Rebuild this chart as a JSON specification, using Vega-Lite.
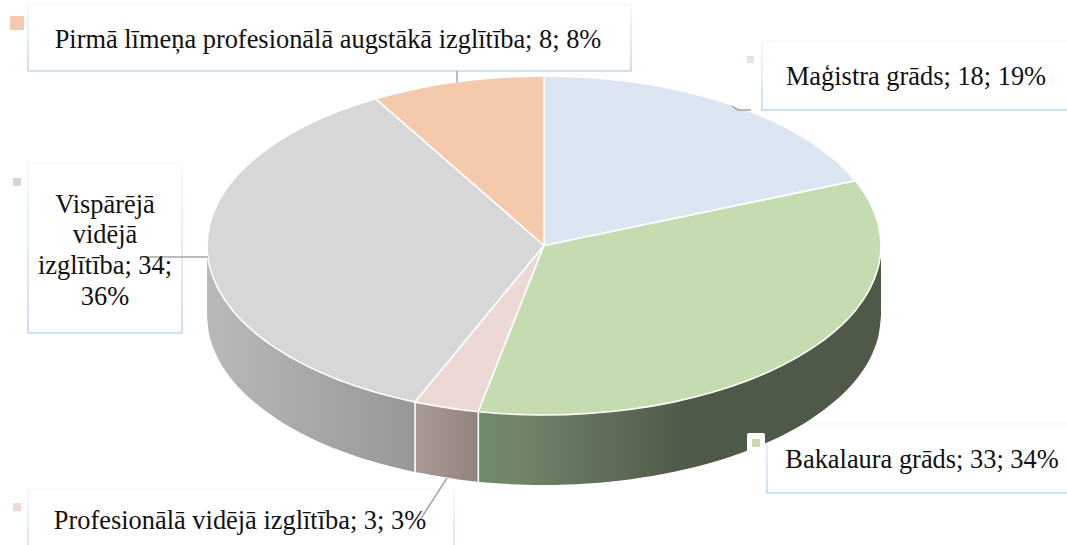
{"$schema":"https://vega.github.io/schema/vega-lite/v6.json","width":1067,"height":545,"padding":0,"autosize":"none","background":"white","config":{"view":{"stroke":null}},
"datasets":{
"top":[
{"s":"M","i":0,"x":0,"y":0},{"s":"M","i":0.5,"x":0,"y":0},{"s":"M","i":0.7,"x":0,"y":169.5},{"s":"M","i":1,"x":0,"y":169.5},{"s":"M","i":2,"x":44,"y":168},{"s":"M","i":3,"x":87.2,"y":163.7},{"s":"M","i":4,"x":129,"y":156.6},{"s":"M","i":5,"x":168.5,"y":146.8},{"s":"M","i":6,"x":205.2,"y":134.5},{"s":"M","i":7,"x":238.3,"y":119.9},{"s":"M","i":8,"x":267.4,"y":103.2},{"s":"M","i":9,"x":291.8,"y":84.8},{"s":"M","i":10,"x":311.4,"y":64.9},{"s":"M","i":10.5,"x":311.4,"y":64.9},{"s":"M","i":11,"x":0,"y":0},{"s":"M","i":11.5,"x":0,"y":0},
{"s":"B","i":0,"x":0,"y":0},{"s":"B","i":0.5,"x":0,"y":0},{"s":"B","i":0.7,"x":311.4,"y":64.9},{"s":"B","i":1,"x":311.4,"y":64.9},{"s":"B","i":2,"x":325.5,"y":43.9},{"s":"B","i":3,"x":334.1,"y":22.1},{"s":"B","i":4,"x":337,"y":0},{"s":"B","i":5,"x":334.1,"y":-22.1},{"s":"B","i":6,"x":325.5,"y":-43.9},{"s":"B","i":7,"x":311.4,"y":-64.9},{"s":"B","i":8,"x":291.8,"y":-84.8},{"s":"B","i":9,"x":267.4,"y":-103.2},{"s":"B","i":10,"x":238.3,"y":-119.9},{"s":"B","i":11,"x":205.2,"y":-134.5},{"s":"B","i":12,"x":168.5,"y":-146.8},{"s":"B","i":13,"x":129,"y":-156.6},{"s":"B","i":14,"x":87.2,"y":-163.7},{"s":"B","i":15,"x":44,"y":-168},{"s":"B","i":16,"x":0,"y":-169.5},{"s":"B","i":17,"x":-44,"y":-168},{"s":"B","i":18,"x":-65.7,"y":-166.2},{"s":"B","i":18.5,"x":-65.7,"y":-166.2},{"s":"B","i":19,"x":0,"y":0},{"s":"B","i":19.5,"x":0,"y":0},
{"s":"P","i":0,"x":0,"y":0},{"s":"P","i":0.5,"x":0,"y":0},{"s":"P","i":0.7,"x":-65.7,"y":-166.2},{"s":"P","i":1,"x":-65.7,"y":-166.2},{"s":"P","i":2,"x":-87.2,"y":-163.7},{"s":"P","i":3,"x":-129,"y":-156.6},{"s":"P","i":3.5,"x":-129,"y":-156.6},{"s":"P","i":4,"x":0,"y":0},{"s":"P","i":4.5,"x":0,"y":0},
{"s":"V","i":0,"x":0,"y":0},{"s":"V","i":0.5,"x":0,"y":0},{"s":"V","i":0.7,"x":-129,"y":-156.6},{"s":"V","i":1,"x":-129,"y":-156.6},{"s":"V","i":2,"x":-168.5,"y":-146.8},{"s":"V","i":3,"x":-205.2,"y":-134.5},{"s":"V","i":4,"x":-238.3,"y":-119.9},{"s":"V","i":5,"x":-267.4,"y":-103.2},{"s":"V","i":6,"x":-291.8,"y":-84.8},{"s":"V","i":7,"x":-311.4,"y":-64.9},{"s":"V","i":8,"x":-325.5,"y":-43.9},{"s":"V","i":9,"x":-334.1,"y":-22.1},{"s":"V","i":10,"x":-337,"y":0},{"s":"V","i":11,"x":-334.1,"y":22.1},{"s":"V","i":12,"x":-325.5,"y":43.9},{"s":"V","i":13,"x":-311.4,"y":64.9},{"s":"V","i":14,"x":-291.8,"y":84.8},{"s":"V","i":15,"x":-267.4,"y":103.2},{"s":"V","i":16,"x":-238.3,"y":119.9},{"s":"V","i":17,"x":-205.2,"y":134.5},{"s":"V","i":18,"x":-168.5,"y":146.8},{"s":"V","i":18.5,"x":-168.5,"y":146.8},{"s":"V","i":19,"x":0,"y":0},{"s":"V","i":19.5,"x":0,"y":0},
{"s":"A","i":0,"x":0,"y":0},{"s":"A","i":0.5,"x":0,"y":0},{"s":"A","i":0.7,"x":-168.5,"y":146.8},{"s":"A","i":1,"x":-168.5,"y":146.8},{"s":"A","i":2,"x":-129,"y":156.6},{"s":"A","i":3,"x":-87.2,"y":163.7},{"s":"A","i":4,"x":-44,"y":168},{"s":"A","i":5,"x":0,"y":169.5},{"s":"A","i":5.5,"x":0,"y":169.5},{"s":"A","i":6,"x":0,"y":0},{"s":"A","i":6.5,"x":0,"y":0}
],
"wall":[
{"s":"B","x":337,"y":0,"y2":-70},{"s":"B","x":334.1,"y":-22.1,"y2":-92.1},{"s":"B","x":325.5,"y":-43.9,"y2":-113.9},{"s":"B","x":311.4,"y":-64.9,"y2":-134.9},{"s":"B","x":291.8,"y":-84.8,"y2":-154.8},{"s":"B","x":267.4,"y":-103.2,"y2":-173.2},{"s":"B","x":238.3,"y":-119.9,"y2":-189.9},{"s":"B","x":205.2,"y":-134.5,"y2":-204.5},{"s":"B","x":168.5,"y":-146.8,"y2":-216.8},{"s":"B","x":129,"y":-156.6,"y2":-226.6},{"s":"B","x":87.2,"y":-163.7,"y2":-233.7},{"s":"B","x":44,"y":-168,"y2":-238},{"s":"B","x":0,"y":-169.5,"y2":-239.5},{"s":"B","x":-44,"y":-168,"y2":-238},{"s":"B","x":-65.7,"y":-166.2,"y2":-236.2},
{"s":"P","x":-65.7,"y":-166.2,"y2":-236.2},{"s":"P","x":-87.2,"y":-163.7,"y2":-233.7},{"s":"P","x":-129,"y":-156.6,"y2":-226.6},
{"s":"V","x":-129,"y":-156.6,"y2":-226.6},{"s":"V","x":-168.5,"y":-146.8,"y2":-216.8},{"s":"V","x":-205.2,"y":-134.5,"y2":-204.5},{"s":"V","x":-238.3,"y":-119.9,"y2":-189.9},{"s":"V","x":-267.4,"y":-103.2,"y2":-173.2},{"s":"V","x":-291.8,"y":-84.8,"y2":-154.8},{"s":"V","x":-311.4,"y":-64.9,"y2":-134.9},{"s":"V","x":-325.5,"y":-43.9,"y2":-113.9},{"s":"V","x":-334.1,"y":-22.1,"y2":-92.1},{"s":"V","x":-337,"y":0,"y2":-70}
],
"seams":[{"x":-65.7,"y":-166.2,"y2":-236.2},{"x":-129,"y":-156.6,"y2":-226.6}],
"boxes":[
{"name":"Pirmā līmeņa profesionālā augstākā izglītība","x":-516,"x2":87,"y":241,"y2":174.5},
{"name":"Maģistra grāds","x":218,"x2":540,"y":204.5,"y2":135.5},
{"name":"Vispārējā vidējā izglītība","x":-516,"x2":-362,"y":82.5,"y2":-87.5},
{"name":"Profesionālā vidējā izglītība","x":-516,"x2":-90,"y":-243.5,"y2":-320},
{"name":"Bakalaura grāds","x":223,"x2":540,"y":-178.5,"y2":-247.5}],
"halo":[{"name":"Bakalaura grāds","x":203,"x2":221,"y":-187.5,"y2":-206.5}],
"keys":[
{"name":"Pirmā līmeņa profesionālā augstākā izglītība","x":-534,"x2":-520,"y":229.5,"y2":215.5},
{"name":"Maģistra grāds","x":203,"x2":210,"y":189.5,"y2":182.5},
{"name":"Vispārējā vidējā izglītība","x":-531,"x2":-523,"y":67.5,"y2":59.5},
{"name":"Profesionālā vidējā izglītība","x":-531,"x2":-523,"y":-257.5,"y2":-265.5},
{"name":"Bakalaura grāds","x":208,"x2":216,"y":-193.5,"y2":-201.5}],
"leaders":[
{"s":"A","i":0,"x":-87,"y":174.5},{"s":"A","i":1,"x":-87,"y":163},
{"s":"M","i":0,"x":188,"y":139.5},{"s":"M","i":1,"x":194,"y":135.5},{"s":"M","i":2,"x":207,"y":135.5},
{"s":"V","i":0,"x":-396,"y":-11.5},{"s":"V","i":1,"x":-336,"y":-11.5},
{"s":"P","i":0,"x":-97,"y":-232.5},{"s":"P","i":1,"x":-124,"y":-274.5}],
"labels":[
{"t":"Pirmā līmeņa profesionālā augstākā izglītība; 8; 8%","x":-216,"y":197.2},
{"t":"Maģistra grāds; 18; 19%","x":372,"y":160.5},
{"t":"Vispārējā","x":-439,"y":32.8},{"t":"vidējā","x":-439,"y":2.8},{"t":"izglītība; 34;","x":-439,"y":-28.8},{"t":"36%","x":-439,"y":-59.5},
{"t":"Profesionālā vidējā izglītība; 3; 3%","x":-304,"y":-283.5},
{"t":"Bakalaura grāds; 33; 34%","x":378,"y":-222.5}]
},
"encoding":{
"x":{"field":"x","type":"quantitative","axis":null,"scale":{"domain":[-544,523],"nice":false,"zero":false}},
"y":{"field":"y","type":"quantitative","axis":null,"scale":{"domain":[-299.5,245.5],"nice":false,"zero":false}}},
"layer":[
{"data":{"name":"boxes"},"mark":{"type":"rect","clip":true,"fillOpacity":0,"fill":"white","strokeWidth":1.6,"stroke":{"gradient":"linear","x1":0,"y1":0,"x2":0,"y2":1,"stops":[{"offset":0,"color":"#f3f8fd"},{"offset":1,"color":"#bfd8f0"}]}},"encoding":{"x2":{"field":"x2"},"y2":{"field":"y2"}}},
{"data":{"name":"wall"},"transform":[{"filter":"datum.s==='V'"}],"mark":{"type":"area","orient":"vertical","interpolate":"catmull-rom","fill":{"gradient":"linear","x1":0,"y1":0,"x2":1,"y2":0,"stops":[{"offset":0,"color":"#b9b9b9"},{"offset":1,"color":"#979797"}]}},"encoding":{"y2":{"field":"y2"}}},
{"data":{"name":"wall"},"transform":[{"filter":"datum.s==='P'"}],"mark":{"type":"area","orient":"vertical","interpolate":"catmull-rom","fill":{"gradient":"linear","x1":0,"y1":0,"x2":1,"y2":0,"stops":[{"offset":0,"color":"#a99a96"},{"offset":1,"color":"#91827f"}]}},"encoding":{"y2":{"field":"y2"}}},
{"data":{"name":"wall"},"transform":[{"filter":"datum.s==='B'"}],"mark":{"type":"area","orient":"vertical","interpolate":"catmull-rom","fill":{"gradient":"linear","x1":0,"y1":0,"x2":1,"y2":0,"stops":[{"offset":0,"color":"#6f8a6c"},{"offset":0.1,"color":"#72846a"},{"offset":0.52,"color":"#4f5947"},{"offset":1,"color":"#4f5947"}]}},"encoding":{"y2":{"field":"y2"}}},
{"data":{"name":"seams"},"mark":{"type":"rule","color":"white","strokeWidth":1.6},"encoding":{"y2":{"field":"y2"}}},
{"data":{"name":"top"},"transform":[{"filter":"datum.s==='V'"}],"mark":{"type":"line","interpolate":"catmull-rom","fill":"#d7d7d7","stroke":"white","strokeWidth":1.6,"strokeJoin":"round"},"encoding":{"order":{"field":"i","type":"quantitative"}}},
{"data":{"name":"top"},"transform":[{"filter":"datum.s==='P'"}],"mark":{"type":"line","interpolate":"catmull-rom","fill":"#ecd9d6","stroke":"white","strokeWidth":1.6,"strokeJoin":"round"},"encoding":{"order":{"field":"i","type":"quantitative"}}},
{"data":{"name":"top"},"transform":[{"filter":"datum.s==='B'"}],"mark":{"type":"line","interpolate":"catmull-rom","fill":"#c4dcb0","stroke":"white","strokeWidth":1.6,"strokeJoin":"round"},"encoding":{"order":{"field":"i","type":"quantitative"}}},
{"data":{"name":"top"},"transform":[{"filter":"datum.s==='M'"}],"mark":{"type":"line","interpolate":"catmull-rom","fill":"#dce6f2","stroke":"white","strokeWidth":1.6,"strokeJoin":"round"},"encoding":{"order":{"field":"i","type":"quantitative"}}},
{"data":{"name":"top"},"transform":[{"filter":"datum.s==='A'"}],"mark":{"type":"line","interpolate":"catmull-rom","fill":"#f5c9ac","stroke":"white","strokeWidth":1.6,"strokeJoin":"round"},"encoding":{"order":{"field":"i","type":"quantitative"}}},
{"data":{"name":"leaders"},"mark":{"type":"line","color":"#a6a6a6","strokeWidth":1.5},"encoding":{"detail":{"field":"s"},"order":{"field":"i","type":"quantitative"}}},
{"data":{"name":"halo"},"mark":{"type":"rect","fill":"white","cornerRadius":2},"encoding":{"x2":{"field":"x2"},"y2":{"field":"y2"}}},
{"data":{"name":"keys"},"mark":{"type":"rect"},"encoding":{"x2":{"field":"x2"},"y2":{"field":"y2"},"fill":{"field":"name","type":"nominal","legend":null,"scale":{"domain":["Maģistra grāds","Bakalaura grāds","Profesionālā vidējā izglītība","Vispārējā vidējā izglītība","Pirmā līmeņa profesionālā augstākā izglītība"],"range":["#dce6f2","#c4dcb0","#ecd9d6","#d7d7d7","#f5c9ac"]}}}},
{"data":{"name":"labels"},"mark":{"type":"text","font":"Liberation Serif","fontSize":26.4,"color":"#111111","align":"center","baseline":"alphabetic"},"encoding":{"text":{"field":"t"}}}
]}
